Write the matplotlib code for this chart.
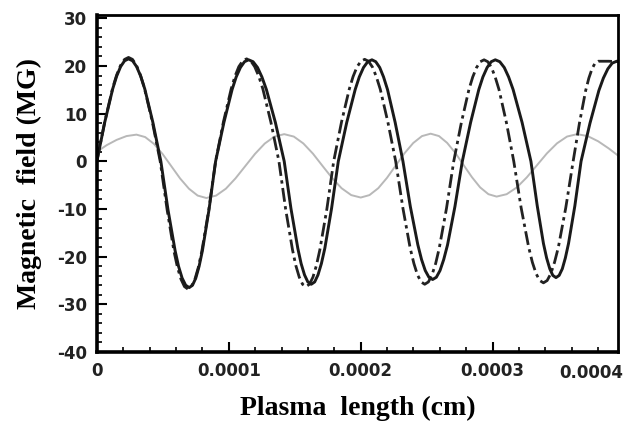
import numpy as np
import matplotlib
matplotlib.use("Agg")
import matplotlib.pyplot as plt
from matplotlib.ticker import MultipleLocator

# x values in units of 1e-5 cm
x_solid = [0, 0.6, 1.2, 1.5, 1.8, 2.1, 2.4, 2.71, 3.01, 3.32, 3.63, 4.24, 4.85,
           5.39, 5.93, 6.19, 6.46, 6.73, 7.0, 7.25, 7.5, 7.75, 8.0, 8.5, 9.0,
           9.63, 10.25, 10.56, 10.88, 11.19, 11.5, 11.84, 12.18, 12.51, 12.85, 13.53, 14.2,
           14.71, 15.23, 15.48, 15.74, 15.99, 16.25, 16.51, 16.76, 17.02, 17.28, 17.79, 18.3,
           18.94, 19.58, 19.89, 20.21, 20.53, 20.85, 21.14, 21.44, 21.73, 22.03, 22.61, 23.2,
           23.76, 24.33, 24.61, 24.89, 25.17, 25.45, 25.73, 26.01, 26.29, 26.58, 27.14, 27.7,
           28.33, 28.95, 29.26, 29.58, 29.89, 30.2, 30.54, 30.88, 31.21, 31.55, 32.23, 32.9,
           33.38, 33.85, 34.09, 34.33, 34.56, 34.8, 35.04, 35.28, 35.51, 35.75, 36.23, 36.7,
           37.38, 38.05, 38.39, 38.73, 39.06, 39.4, 39.6]
b_solid = [0, 8.23, 15.2, 17.87, 19.87, 21.09, 21.5, 21.09, 19.87, 17.87, 15.2, 8.23, 0,
           -10.15, -18.74, -22.02, -24.49, -26.0, -26.5, -26.0, -24.49, -22.02, -18.74, -10.15, 0,
           8.16, 15.06, 17.7, 19.68, 20.9, 21.3, 20.9, 19.68, 17.7, 15.06, 8.16, 0,
           -9.88, -18.24, -21.44, -23.84, -25.31, -25.8, -25.31, -23.84, -21.44, -18.24, -9.88, 0,
           8.16, 15.06, 17.7, 19.68, 20.9, 21.3, 20.9, 19.68, 17.7, 15.06, 8.16, 0,
           -9.5, -17.53, -20.61, -22.92, -24.33, -24.8, -24.33, -22.92, -20.61, -17.53, -9.5, 0,
           8.16, 15.06, 17.7, 19.68, 20.9, 21.3, 20.9, 19.68, 17.7, 15.06, 8.16, 0,
           -9.35, -17.25, -20.28, -22.55, -23.94, -24.4, -23.94, -22.55, -20.28, -17.25, -9.35, 0,
           8.04, 14.85, 17.45, 19.4, 20.6, 21.0, 21.0]

x_dash = [0, 0.6, 1.2, 1.5, 1.8, 2.1, 2.4, 2.7, 3.0, 3.3, 3.6, 4.2, 4.8,
          5.33, 5.85, 6.11, 6.38, 6.64, 6.9, 7.16, 7.43, 7.69, 7.95, 8.48, 9.0,
          9.59, 10.18, 10.47, 10.76, 11.06, 11.35, 11.66, 11.96, 12.27, 12.58, 13.19, 13.8,
          14.31, 14.83, 15.08, 15.34, 15.59, 15.85, 16.11, 16.38, 16.64, 16.9, 17.43, 17.95,
          18.54, 19.13, 19.42, 19.71, 20.01, 20.3, 20.59, 20.89, 21.18, 21.48, 22.06, 22.65,
          23.2, 23.75, 24.03, 24.3, 24.58, 24.85, 25.13, 25.4, 25.68, 25.95, 26.5, 27.05,
          27.63, 28.2, 28.49, 28.78, 29.06, 29.35, 29.63, 29.91, 30.19, 30.48, 31.04, 31.6,
          32.16, 32.73, 33.01, 33.29, 33.57, 33.85, 34.13, 34.41, 34.69, 34.98, 35.54, 36.1,
          36.58, 37.05, 37.29, 37.53, 37.76, 38.0, 38.8, 39.6]
b_dash = [0, 8.35, 15.41, 18.12, 20.14, 21.39, 21.8, 21.39, 20.14, 18.12, 15.41, 8.35, 0,
          -10.26, -18.95, -22.27, -24.76, -26.29, -26.8, -26.29, -24.76, -22.27, -18.95, -10.26, 0,
          8.23, 15.2, 17.87, 19.87, 21.09, 21.5, 21.09, 19.87, 17.87, 15.2, 8.23, 0,
          -10.07, -18.59, -21.86, -24.3, -25.8, -26.3, -25.8, -24.3, -21.86, -18.59, -10.07, 0,
          8.2, 15.13, 17.78, 19.77, 20.99, 21.4, 20.99, 19.77, 17.78, 15.13, 8.2, 0,
          -9.88, -18.24, -21.44, -23.84, -25.31, -25.8, -25.31, -23.84, -21.44, -18.24, -9.88, 0,
          8.16, 15.06, 17.7, 19.68, 20.9, 21.3, 20.9, 19.68, 17.7, 15.06, 8.16, 0,
          -9.77, -18.03, -21.19, -23.56, -25.02, -25.5, -25.02, -23.56, -21.19, -18.03, -9.77, 0,
          8.04, 14.85, 17.45, 19.4, 20.6, 21.0, 21.0, 20.9]

x_gray = [0, 0.75, 1.5, 2.25, 3.0, 3.66, 4.33, 4.99, 5.65, 6.31, 6.98, 7.64, 8.3,
          9.04, 9.78, 10.51, 11.25, 11.99, 12.73, 13.46, 14.2, 14.93, 15.65, 16.38,
          17.1, 17.83, 18.55, 19.28, 20.0, 20.66, 21.33, 21.99, 22.65, 23.31, 23.98,
          24.64, 25.3, 25.93, 26.55, 27.18, 27.8, 28.43, 29.05, 29.68, 30.3, 31.06,
          31.83, 32.59, 33.35, 34.11, 34.88, 35.64, 36.4, 37.2, 38.0, 38.8, 39.6]
b_gray = [2.0, 3.4, 4.5, 5.3, 5.6, 5.09, 3.65, 1.5, -1.05, -3.6, -5.75, -7.19, -7.7,
          -7.19, -5.74, -3.57, -1.0, 1.57, 3.74, 5.19, 5.7, 5.19, 3.75, 1.6,
          -0.95, -3.5, -5.65, -7.09, -7.6, -7.09, -5.64, -3.47, -0.9, 1.67, 3.84,
          5.29, 5.8, 5.3, 3.87, 1.73, -0.8, -3.33, -5.47, -6.9, -7.4, -6.9,
          -5.48, -3.36, -0.85, 1.66, 3.78, 5.2, 5.7, 5.3, 4.2, 2.7, 1.0]

xticks = [0, 0.0001, 0.0002, 0.0003]
xticklabels = ['0', '0.0001', '0.0002', '0.0003']
yticks = [-40, -30, -20, -10, 0, 10, 20, 30]

plt.rcParams['axes.unicode_minus'] = False

fig = plt.figure(figsize=(6.29, 4.23), dpi=100)
ax = fig.add_axes([0.154, 0.168, 0.8285, 0.7965])

scale = 1e-5
ax.plot(np.array(x_gray) * scale, b_gray, color='#b8b8b8', lw=1.4)
ax.plot(np.array(x_dash) * scale, b_dash, color='#222222', lw=2.0,
        linestyle=(0, (5, 1.6, 1.2, 1.6)))
ax.plot(np.array(x_solid) * scale, b_solid, color='#1a1a1a', lw=2.1)

ax.set_xlim(0, 0.000395)
ax.set_ylim(-40, 30.7)

ax.set_xticks(xticks)
ax.set_xticklabels(xticklabels)
ax.set_yticks(yticks)
ax.xaxis.set_minor_locator(MultipleLocator(0.00002))
ax.yaxis.set_minor_locator(MultipleLocator(2))
ax.tick_params(which='major', direction='in', length=7, width=1.5, pad=7)
ax.tick_params(which='minor', direction='in', length=3.5, width=1.2)
ax.tick_params(top=False, right=False, which='both')

for lab in ax.get_xticklabels() + ax.get_yticklabels():
    lab.set_fontfamily('DejaVu Sans')
    lab.set_fontweight('bold')
    lab.set_fontsize(12)
    lab.set_color('#222222')

# the last x label sits left of the frame edge in the original
ax.text(0.000375, -0.035, '0.0004', transform=ax.get_xaxis_transform(),
        ha='center', va='top', fontsize=12, fontweight='bold',
        family='DejaVu Sans', color='#222222')

for side in ['left', 'bottom']:
    ax.spines[side].set_linewidth(2.6)
for side in ['top', 'right']:
    ax.spines[side].set_linewidth(2.0)

ax.set_xlabel('Plasma  length (cm)', family='Liberation Serif', fontweight='bold',
              fontsize=20, labelpad=12)
ax.set_ylabel('Magnetic  field (MG)', family='Liberation Serif', fontweight='bold',
              fontsize=20, labelpad=11)

fig.savefig('out.png', dpi=100)
